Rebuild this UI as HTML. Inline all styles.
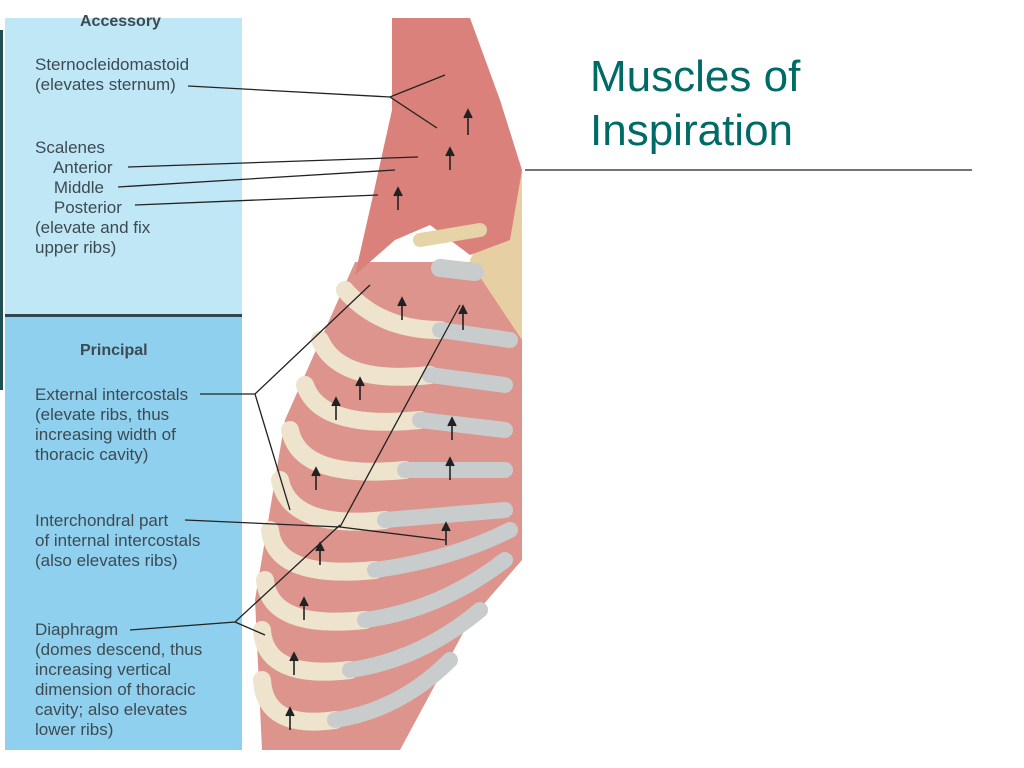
<!DOCTYPE html>
<html><head><meta charset="utf-8"><style>
body{margin:0;width:1024px;height:768px;background:#fff;position:relative;overflow:hidden;font-family:"Liberation Sans",sans-serif}
.t{position:absolute;color:#3d4a52;font-size:17px;line-height:20px;white-space:pre}
</style></head><body>
<div style="position:absolute;left:0;top:30px;width:3px;height:360px;background:#1f4f55"></div>
<div style="position:absolute;left:5px;top:18px;width:237px;height:297px;background:#bfe7f6"></div>
<div style="position:absolute;left:5px;top:314px;width:237px;height:3px;background:#2f4650"></div>
<div style="position:absolute;left:5px;top:317px;width:237px;height:433px;background:#8fd0ee"></div>
<svg style="position:absolute;left:0;top:0" width="1024" height="768">
<path d="M470,260 L515,170 L522,170 L522,560 L495,560 Z" fill="#e6cfa3"/>
<path d="M355,262 L470,262 L522,340 L522,560 L470,620 L400,750 L262,750 L255,600 L285,420 Z" fill="#dc948c"/>
<path d="M355,275 L372,200 L392,110 L392,18 L470,18 L500,100 L522,170 L510,240 L470,255 L430,225 L395,240 Z" fill="#d9817a"/>
<g fill="none" stroke-linecap="round">
<g stroke="#eee3cc" stroke-width="18">
<path d="M345,290 Q380,330 440,330"/>
<path d="M320,340 Q340,385 430,375"/>
<path d="M305,385 Q320,430 420,420"/>
<path d="M290,430 Q300,480 405,470"/>
<path d="M280,480 Q290,530 385,520"/>
<path d="M270,530 Q275,580 375,570"/>
<path d="M265,580 Q270,630 365,620"/>
<path d="M262,630 Q265,680 350,670"/>
<path d="M262,680 Q265,730 335,720"/>
</g>
<g stroke="#c9cccc" stroke-width="16">
<path d="M440,330 L510,340"/>
<path d="M430,375 L505,385"/>
<path d="M420,420 L505,430"/>
<path d="M405,470 L505,470"/>
<path d="M385,520 L505,510"/>
<path d="M375,570 Q450,560 510,530"/>
<path d="M365,620 Q440,610 505,560"/>
<path d="M350,670 Q420,660 480,610"/>
<path d="M335,720 Q400,710 450,660"/>
</g>
<path d="M420,240 L480,230" stroke="#e6d3a8" stroke-width="14"/>
<path d="M440,268 L475,272" stroke="#c9cccc" stroke-width="18"/>
</g>
<g stroke="#222" stroke-width="1.3" fill="none">
<path d="M188,86 L390,97 L445,75 M390,97 L437,128"/>
<path d="M128,167 L418,157"/>
<path d="M118,187 L395,170"/>
<path d="M135,205 L378,195"/>
<path d="M200,394 L255,394 L370,285 M255,394 L290,510"/>
<path d="M185,520 L340,527 L445,540 M340,527 L460,305"/>
<path d="M130,630 L235,622 L340,525 M235,622 L265,635"/>
</g>
<g stroke="#222" stroke-width="1.6" fill="#222">
<path d="M468,135 L468,112 M464,118 L468,110 L472,118"/>
<path d="M450,170 L450,150 M446,156 L450,148 L454,156"/>
<path d="M398,210 L398,190 M394,196 L398,188 L402,196"/>
<path d="M402,320 L402,300 M398,306 L402,298 L406,306"/>
<path d="M463,330 L463,308 M459,314 L463,306 L467,314"/>
<path d="M360,400 L360,380 M356,386 L360,378 L364,386"/>
<path d="M452,440 L452,420 M448,426 L452,418 L456,426"/>
<path d="M336,420 L336,400 M332,406 L336,398 L340,406"/>
<path d="M316,490 L316,470 M312,476 L316,468 L320,476"/>
<path d="M450,480 L450,460 M446,466 L450,458 L454,466"/>
<path d="M320,565 L320,545 M316,551 L320,543 L324,551"/>
<path d="M446,545 L446,525 M442,531 L446,523 L450,531"/>
<path d="M304,620 L304,600 M300,606 L304,598 L308,606"/>
<path d="M294,675 L294,655 M290,661 L294,653 L298,661"/>
<path d="M290,730 L290,710 M286,716 L290,708 L294,716"/>
</g>
<line x1="525" y1="170" x2="972" y2="170" stroke="#222" stroke-width="1.3"/>
</svg>
<div class="t" style="left:80px;top:12px;font-weight:bold;font-size:16px">Accessory</div>
<div class="t" style="left:35px;top:55px">Sternocleidomastoid
(elevates sternum)</div>
<div class="t" style="left:35px;top:138px">Scalenes
    Anterior
    Middle
    Posterior
(elevate and fix
upper ribs)</div>
<div class="t" style="left:80px;top:341px;font-weight:bold;font-size:16px">Principal</div>
<div class="t" style="left:35px;top:385px">External intercostals
(elevate ribs, thus
increasing width of
thoracic cavity)</div>
<div class="t" style="left:35px;top:511px">Interchondral part
of internal intercostals
(also elevates ribs)</div>
<div class="t" style="left:35px;top:620px">Diaphragm
(domes descend, thus
increasing vertical
dimension of thoracic
cavity; also elevates
lower ribs)</div>
<div style="position:absolute;left:590px;top:50px;color:#006a66;font-size:44px;line-height:54px">Muscles of<br>Inspiration</div>
</body></html>
